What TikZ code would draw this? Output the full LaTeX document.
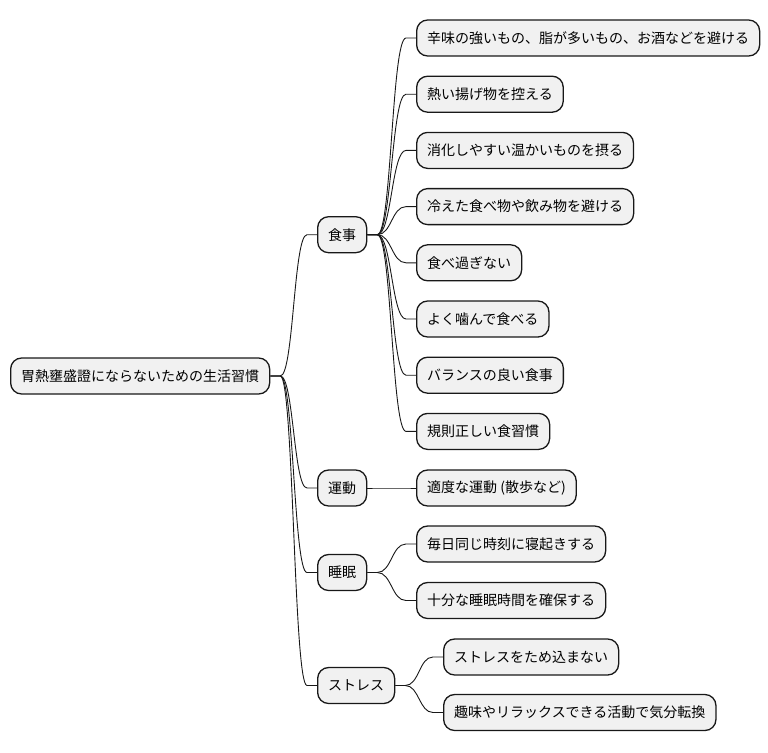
\documentclass[tikz,border=0pt]{standalone}
\usepackage{fontspec}
\setmainfont{Noto Sans CJK JP}
\usetikzlibrary{calc}
\definecolor{boxfill}{HTML}{F1F1F1}
\definecolor{edge}{HTML}{181818}
\newcommand{\mlink}[2]{%
  \path ([xshift=10pt]#1.east) coordinate (p1) ([xshift=-10pt]#2.west) coordinate (p2);
  \path ($(p1)!0.5!(p2)$) coordinate (pm);
  \draw[link] (#1.east) -- (p1) .. controls (pm |- p1) and (pm |- p2) .. (p2) -- (#2.west);}
\begin{document}
\begin{tikzpicture}[x=1pt,y=-1pt,
  box/.style={draw=edge, fill=boxfill, line width=1.3pt, rounded corners=11pt,
    minimum height=36pt, inner xsep=10.5pt, inner ysep=0pt, anchor=west,
    font=\fontsize{14}{16}\selectfont, text=black},
  link/.style={draw=edge, line width=0.9pt}]
\useasboundingbox (0,0) rectangle (768,752);
\node[box] (root) at (10,376) {胃熱壅盛證にならないための生活習慣};
\node[box] (food) at (317,234.7) {食事};
\node[box] (exer) at (317,488) {運動};
\node[box] (sleep) at (317,572.5) {睡眠};
\node[box] (stress) at (317,685.5) {ストレス};
\node[box] (f1) at (416,38) {辛味の強いもの、脂が多いもの、お酒などを避ける};
\node[box] (f2) at (416,94.2) {熱い揚げ物を控える};
\node[box] (f3) at (416,150.4) {消化しやすい温かいものを摂る};
\node[box] (f4) at (416,206.6) {冷えた食べ物や飲み物を避ける};
\node[box] (f5) at (416,262.8) {食べ過ぎない};
\node[box] (f6) at (416,319) {よく噛んで食べる};
\node[box] (f7) at (416,375.2) {バランスの良い食事};
\node[box] (f8) at (416,431.4) {規則正しい食習慣};
\node[box] (e1) at (416,488) {適度な運動 (散歩など)};
\node[box] (s1) at (416,544) {毎日同じ時刻に寝起きする};
\node[box] (s2) at (416,600.5) {十分な睡眠時間を確保する};
\node[box] (t1) at (443,657) {ストレスをため込まない};
\node[box] (t2) at (443,712.5) {趣味やリラックスできる活動で気分転換};
\mlink{root}{food}
\mlink{root}{exer}
\mlink{root}{sleep}
\mlink{root}{stress}
\mlink{food}{f1}
\mlink{food}{f2}
\mlink{food}{f3}
\mlink{food}{f4}
\mlink{food}{f5}
\mlink{food}{f6}
\mlink{food}{f7}
\mlink{food}{f8}
\mlink{exer}{e1}
\mlink{sleep}{s1}
\mlink{sleep}{s2}
\mlink{stress}{t1}
\mlink{stress}{t2}
\end{tikzpicture}
\end{document}
